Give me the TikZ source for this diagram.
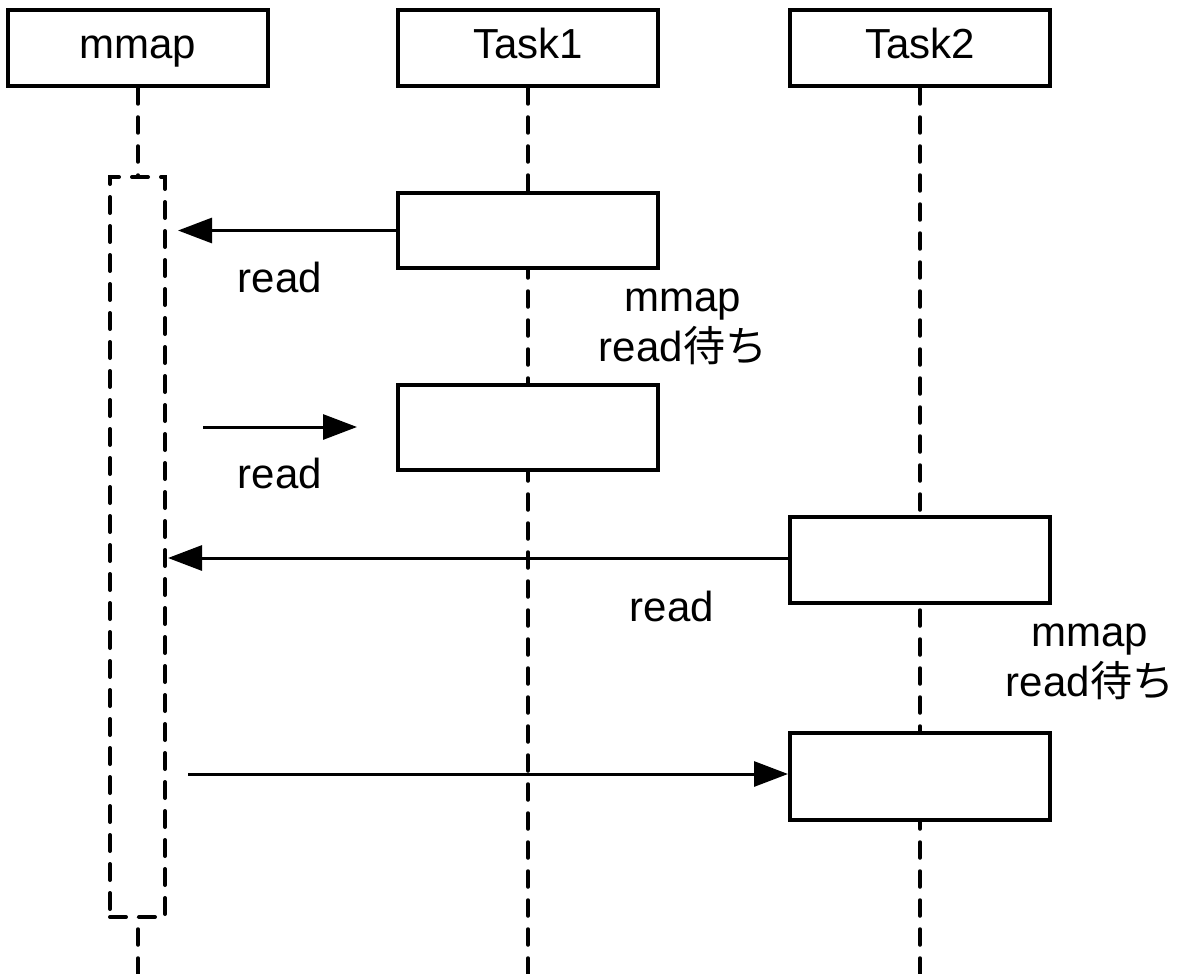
\documentclass[tikz,border=0pt]{standalone}
\usepackage{fontspec}
\setmainfont{Liberation Sans}
\newfontfamily\jp{Noto Sans CJK JP}
\usetikzlibrary{arrows.meta}

\tikzset{
	head/.style = {draw, line width=2pt, fill=white, minimum width=130pt, minimum height=38pt, inner sep=0pt, text height=15pt, text depth=4.5pt},
	actbox/.style = {draw, line width=2pt, fill=white, minimum width=130pt, inner sep=0pt},
	life/.style = {line width=1.75pt, line cap=round, dash pattern=on 8pt off 6.5pt},
	msg/.style = {line width=1.5pt, -{Triangle[length=17pt,width=12.5pt]}},
	lbl/.style = {align=center, inner sep=0pt}
}

\begin{document}
\begin{tikzpicture}[x=0.5pt, y=-0.5pt, font=\fontsize{21}{25}\selectfont]
	\useasboundingbox (0,0) rectangle (1183,974);
	
	% heads
	\node [head] (mmap) at (138,48) {mmap};
	\node [head] (task1) at (528,48) {Task1};
	\node [head] (task2) at (920,48) {Task2};
	
	% lifelines
	\coordinate (mend) at (138,974);
	\coordinate (t1end) at (528,974);
	\coordinate (t2end) at (920,974);
	\draw [life] (mmap.south) -- (mend);
	\draw [life] (task1.south) -- (t1end);
	\draw [life] (task2.south) -- (t2end);
	
	% activations
	\node [draw, fill=white, life, line width=2pt, minimum width=27.5pt, minimum height=370pt, inner sep=0pt] (mact) at (137.5,547) {};
	\node [actbox, minimum height=37.5pt] (t1a) at (528,230.5) {};
	\node [actbox, minimum height=42.5pt] (t1b) at (528,427.5) {};
	\node [actbox, minimum height=43pt] (t2a) at (920,560) {};
	\node [actbox, minimum height=43.5pt] (t2b) at (920,776.5) {};
	
	% messages
	\coordinate (r1) at (178,230.5);
	\coordinate (r2s) at (203,427);
	\coordinate (r2e) at (357,427);
	\coordinate (r3) at (168,558);
	\coordinate (r4) at (188,774);
	\draw [msg] (t1a.west) -- (r1);
	\draw [msg] (r2s) -- (r2e);
	\draw [msg] (t2a.west |- r3) -- (r3);
	\draw [msg] (r4) -- (t2b.west |- r4);
	
	% labels
	\node [lbl] (l1) at (280,277) {read};
	\node [lbl] (l2) at (280,473) {read};
	\node [lbl] (l3) at (672,606) {read};
	\node [lbl] (w1) at (683,327) {mmap\\read{\jp 待ち}};
	\node [lbl] (w2) at (1090,662) {mmap\\read{\jp 待ち}};
\end{tikzpicture}
\end{document}
